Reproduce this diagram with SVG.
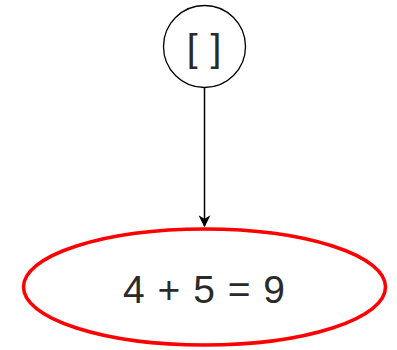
<svg xmlns="http://www.w3.org/2000/svg" width="397" height="350" viewBox="0 0 397 350">
<style>
text{font-family:"Liberation Sans",Arial,sans-serif;fill:#2a2a2a;text-anchor:middle;dominant-baseline:central}
</style>
<defs>
<marker id="arr" viewBox="0 0 10 10" refX="9" refY="5" markerWidth="12" markerHeight="12" markerUnits="userSpaceOnUse" orient="auto">
<path d="M0,0 L10,5 L0,10 L3,5 Z" fill="#000"/>
</marker>
</defs>
<g id="connectors">
<line x1="204.5" y1="87.5" x2="204.5" y2="226" stroke="#000" stroke-width="1.5" marker-end="url(#arr)"/>
</g>
<g id="node-list">
<circle cx="204.5" cy="46.5" r="41" fill="#fff" stroke="#000" stroke-width="1.3"/>
<text x="204" y="47" font-size="39" word-spacing="2">[ ]</text>
</g>
<g id="node-sum">
<ellipse cx="204.5" cy="287" rx="181" ry="58" fill="#fff" stroke="#f00" stroke-width="3.5"/>
<text x="204" y="289" font-size="39" word-spacing="2">4 + 5 = 9</text>
</g>
</svg>
